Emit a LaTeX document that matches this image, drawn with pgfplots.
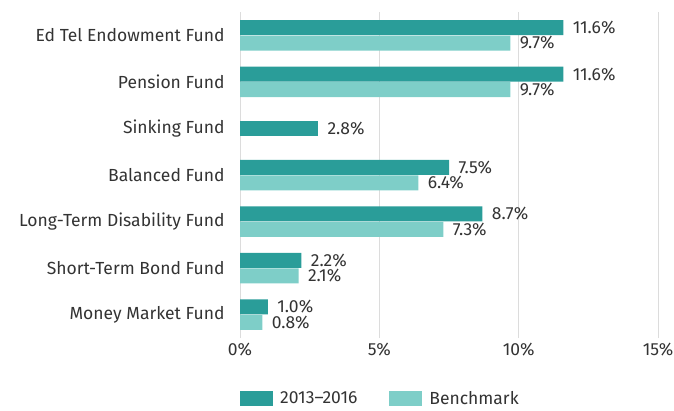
\documentclass[border=0pt]{standalone}
\usepackage{pgfplots}
\pgfplotsset{compat=1.18}
\usepackage{fontspec}
\setmainfont{Fira Sans}
\definecolor{darkteal}{HTML}{2A9D99}
\definecolor{lightteal}{HTML}{7ECEC8}
\definecolor{txt}{HTML}{333333}
\definecolor{gridc}{HTML}{DCDCDC}
\begin{document}
\begin{tikzpicture}
\path[use as bounding box] (0pt,0pt) rectangle (674pt,410pt);
\begin{axis}[
  at={(240pt,72pt)}, anchor=south west,
  scale only axis, width=418pt, height=326pt,
  xbar, bar width=15pt,
  xmin=0, xmax=15, ymin=-0.5, ymax=6.5,
  xtick={0,5,10,15},
  xticklabel={\pgfmathprintnumber{\tick}\%},
  ytick={0,1,2,3,4,5,6},
  yticklabels={Money Market Fund,Short-Term Bond Fund,Long-Term Disability Fund,Balanced Fund,Sinking Fund,Pension Fund,Ed Tel Endowment Fund},
  /pgf/number format/assume math mode=true,
  ticklabel style={font=\fontsize{17.5}{20}\selectfont, text=txt},
  yticklabel style={xshift=-12pt},
  xticklabel style={yshift=-2pt},
  major tick length=0pt,
  axis line style={draw=none},
  xmajorgrids, grid style={gridc, line width=1pt},
  nodes near coords={\pgfmathprintnumber[fixed,precision=1,fixed zerofill]{\pgfplotspointmeta}\%},
  every node near coord/.append style={font=\fontsize{17.5}{20}\selectfont, text=txt, anchor=west, xshift=6pt},
  legend columns=2,
  legend style={at={(0,-0.185)}, anchor=west, draw=none, inner sep=0pt, font=\fontsize{17.5}{20}\selectfont, text=txt,
    /tikz/every even column/.append style={column sep=30pt}},
  legend image code/.code={\fill[#1] (0pt,-7.5pt) rectangle (33pt,7.5pt); \path (38pt,0pt);},
]
\addplot[fill=darkteal, draw=none, bar shift=7.75pt] coordinates {
  (11.6,6) (11.6,5) (7.5,3) (8.7,2) (2.2,1) (1.0,0)
};
\addlegendentry{2013–2016}
\addplot[fill=lightteal, draw=none, bar shift=-7.75pt] coordinates {
  (9.7,6) (9.7,5) (6.4,3) (7.3,2) (2.1,1) (0.8,0)
};
\addlegendentry{Benchmark}
\addplot[fill=darkteal, draw=none, bar shift=0pt, forget plot] coordinates {
  (2.8,4)
};
\end{axis}
\end{tikzpicture}
\end{document}
